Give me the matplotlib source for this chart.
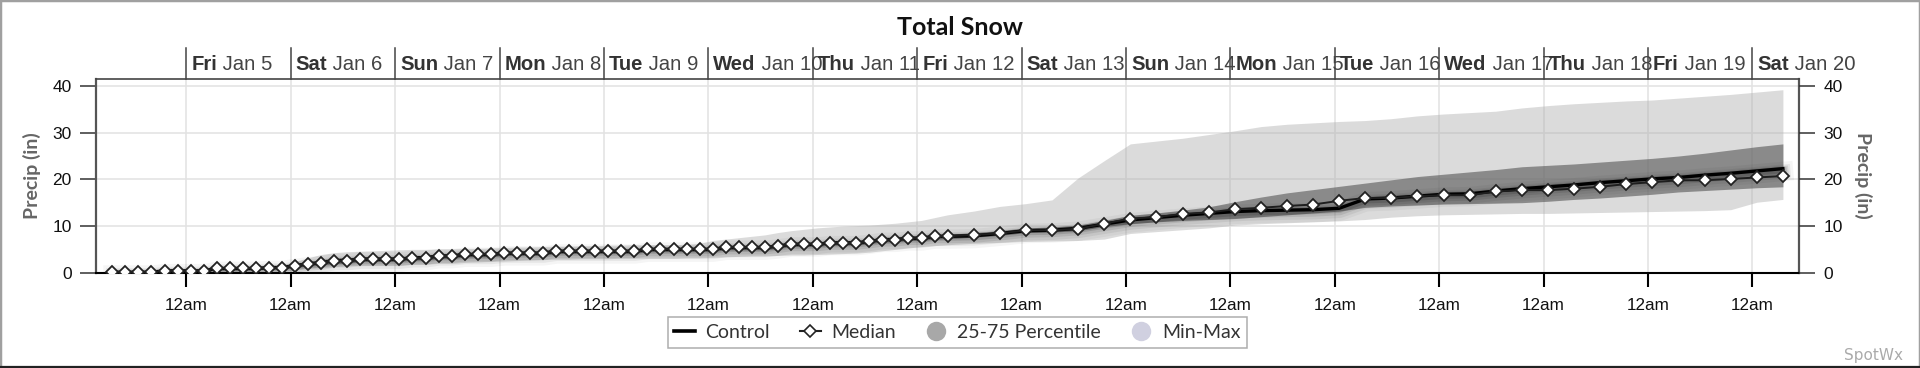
import matplotlib
matplotlib.use('Agg')
import matplotlib.pyplot as plt
import matplotlib.dates as mdates
import matplotlib.patheffects as pe
from matplotlib.lines import Line2D
from matplotlib.patches import Rectangle
import pandas as pd

# ---------------- data ----------------
times = (list(pd.date_range('2024-01-04 07:00', '2024-01-12 07:00', freq='3h')) +
         list(pd.date_range('2024-01-12 13:00', '2024-01-20 07:00', freq='6h')))

median = [
    0.1, 0.1, 0.1, 0.1, 0.4, 0.4, 0.4, 0.4,
    0.9, 0.9, 0.9, 0.9, 1.1, 1.1, 1.5, 1.9,
    2.1, 2.6, 2.6, 2.9, 2.9, 2.9, 2.9, 3.2,
    3.2, 3.6, 3.6, 3.9, 3.9, 3.9, 4.2, 4.2,
    4.2, 4.2, 4.6, 4.6, 4.6, 4.6, 4.6, 4.6,
    4.6, 5.0, 5.0, 5.0, 5.0, 5.0, 5.0, 5.4,
    5.4, 5.4, 5.4, 5.7, 6.1, 6.1, 6.1, 6.4,
    6.4, 6.4, 6.7, 7.1, 7.1, 7.4, 7.4, 7.8,
    7.8, 8.1, 8.4, 9.1, 9.1, 9.4, 10.5, 11.6,
    11.9, 12.6, 12.9, 13.6, 13.9, 14.3, 14.6, 15.4,
    16.0, 16.0, 16.4, 16.6, 16.6, 17.4, 17.7, 17.7,
    18.0, 18.4, 19.0, 19.4, 19.8, 19.8, 20.1, 20.4,
    20.7]

control = [
    0.1, 0.1, 0.1, 0.1, 0.4, 0.4, 0.4, 0.4,
    0.9, 0.9, 0.9, 0.9, 1.1, 1.1, 1.5, 1.9,
    2.1, 2.6, 2.6, 2.9, 2.9, 2.9, 2.9, 3.2,
    3.2, 3.6, 3.6, 3.9, 3.9, 3.9, 4.2, 4.2,
    4.2, 4.2, 4.6, 4.6, 4.6, 4.6, 4.6, 4.6,
    4.6, 5.0, 5.0, 5.0, 5.0, 5.0, 5.0, 5.4,
    5.4, 5.4, 5.4, 5.7, 6.1, 6.1, 6.1, 6.4,
    6.4, 6.4, 6.7, 7.1, 7.1, 7.4, 7.4, 7.8,
    7.8, 7.9, 8.4, 9.0, 9.1, 9.5, 10.4, 11.3,
    11.8, 12.3, 12.7, 13.1, 13.3, 13.4, 13.5, 13.8,
    15.8, 16.0, 16.4, 16.8, 16.9, 17.5, 18.0, 18.4,
    18.8, 19.3, 19.7, 20.1, 20.4, 20.9, 21.3, 21.8,
    22.3]

p25 = [
    0.0, 0.0, 0.0, 0.0, 0.2, 0.2, 0.2, 0.2,
    0.6, 0.6, 0.6, 0.6, 0.8, 0.8, 1.1, 1.4,
    1.6, 2.0, 2.0, 2.4, 2.4, 2.4, 2.4, 2.7,
    2.7, 3.0, 3.0, 3.4, 3.4, 3.4, 3.7, 3.7,
    3.7, 3.7, 4.1, 4.1, 4.1, 4.1, 4.1, 4.1,
    4.1, 4.5, 4.5, 4.5, 4.5, 4.5, 4.5, 4.9,
    4.9, 4.9, 4.9, 5.2, 5.6, 5.6, 5.6, 5.9,
    5.9, 5.9, 6.2, 6.6, 6.6, 6.9, 6.9, 7.2,
    7.3, 7.6, 8.0, 8.6, 8.7, 9.0, 9.9, 10.5,
    10.9, 11.2, 11.4, 11.6, 12.0, 12.4, 12.8, 13.2,
    14.0, 14.3, 14.5, 14.7, 14.8, 14.9, 15.0, 15.3,
    15.7, 16.0, 16.4, 16.8, 17.3, 17.6, 17.9, 18.2,
    18.4]

p75 = [
    0.2, 0.2, 0.2, 0.2, 0.5, 0.5, 0.5, 0.5,
    1.0, 1.0, 1.0, 1.0, 1.3, 1.3, 1.9, 2.4,
    2.8, 3.1, 3.2, 3.4, 3.4, 3.4, 3.4, 3.6,
    3.6, 3.9, 3.9, 4.2, 4.2, 4.2, 4.5, 4.5,
    4.5, 4.5, 4.9, 4.9, 4.9, 4.9, 4.9, 4.9,
    4.9, 5.3, 5.3, 5.3, 5.3, 5.3, 5.3, 5.7,
    5.7, 5.7, 5.7, 6.0, 6.4, 6.4, 6.4, 6.8,
    6.8, 6.8, 7.1, 7.4, 7.4, 7.8, 7.8, 8.1,
    8.2, 8.6, 9.0, 9.6, 9.8, 10.2, 11.2, 12.3,
    12.8, 13.4, 14.1, 15.2, 16.2, 17.1, 17.8, 18.5,
    19.2, 19.9, 20.6, 21.1, 21.6, 22.1, 22.7, 23.0,
    23.3, 23.7, 24.1, 24.5, 25.0, 25.6, 26.3, 27.0,
    27.6]

vmin = [
    0.0, 0.0, 0.0, 0.0, 0.0, 0.0, 0.0, 0.0,
    0.3, 0.3, 0.3, 0.3, 0.5, 0.5, 0.7, 0.9,
    1.1, 1.3, 1.5, 1.6, 1.6, 1.6, 1.6, 1.8,
    1.8, 2.0, 2.0, 2.2, 2.3, 2.4, 2.5, 2.6,
    2.7, 2.8, 2.9, 2.9, 3.0, 3.0, 3.0, 3.1,
    3.1, 3.1, 3.1, 3.1, 3.2, 3.2, 3.3, 3.4,
    3.5, 3.6, 3.6, 3.7, 3.8, 3.8, 3.9, 4.0,
    4.1, 4.2, 4.4, 4.7, 5.0, 5.3, 5.6, 5.8,
    6.0, 6.3, 6.5, 6.7, 6.8, 6.9, 7.2, 8.4,
    8.8, 9.2, 9.6, 10.2, 10.5, 10.7, 10.9, 11.1,
    11.4, 11.9, 12.2, 12.4, 12.5, 12.6, 12.7, 12.7,
    12.8, 12.9, 13.0, 13.1, 13.2, 13.3, 13.5, 15.1,
    15.7]

vmax = [
    0.4, 0.4, 0.4, 0.4, 0.7, 0.7, 0.7, 0.7,
    1.2, 1.2, 1.2, 1.2, 1.6, 1.6, 2.4, 3.2,
    3.9, 4.3, 4.5, 4.6, 4.7, 4.8, 4.9, 5.0,
    5.0, 5.1, 5.1, 5.2, 5.2, 5.3, 5.4, 5.5,
    5.5, 5.6, 5.7, 5.7, 5.8, 5.8, 5.9, 5.9,
    6.0, 6.0, 6.0, 6.0, 6.1, 6.3, 6.9, 7.2,
    7.5, 7.8, 8.1, 8.6, 9.0, 9.3, 9.6, 9.8,
    10.0, 10.1, 10.2, 10.4, 10.6, 10.9, 11.2, 11.8,
    12.4, 13.2, 14.2, 14.8, 15.6, 20.3, 24.0, 27.6,
    28.2, 28.8, 29.6, 30.4, 31.3, 31.8, 32.1, 32.4,
    32.6, 33.0, 33.6, 34.0, 34.3, 34.6, 35.3, 35.8,
    36.2, 36.5, 36.8, 37.0, 37.4, 37.8, 38.2, 38.7,
    39.2]

day_ticks = list(pd.date_range('2024-01-05', '2024-01-20', freq='D'))
day_names = ['Fri', 'Sat', 'Sun', 'Mon', 'Tue', 'Wed', 'Thu', 'Fri',
             'Sat', 'Sun', 'Mon', 'Tue', 'Wed', 'Thu', 'Fri', 'Sat']
day_dates = ['Jan 5', 'Jan 6', 'Jan 7', 'Jan 8', 'Jan 9', 'Jan 10', 'Jan 11',
             'Jan 12', 'Jan 13', 'Jan 14', 'Jan 15', 'Jan 16', 'Jan 17',
             'Jan 18', 'Jan 19', 'Jan 20']
tick_label = '12am'
y_ticks = [0, 10, 20, 30, 40]

# ---------------- figure ----------------
W, H = 1920, 368
fig = plt.figure(figsize=(W / 100, H / 100), dpi=100)
fig.patch.set_facecolor('white')

ax_l, ax_r, ax_t, ax_b = 96, 1799, 79, 272.7
ax = fig.add_axes([ax_l / W, 1 - ax_b / H, (ax_r - ax_l) / W, (ax_b - ax_t) / H])

x = mdates.date2num(times)

ax.fill_between(x, vmin, vmax, color='#b0b0b0', alpha=0.45, lw=0, zorder=2)
ax.fill_between(x, p25, p75, color='#555555', alpha=0.6, lw=0, zorder=3)

shadow = [pe.Stroke(linewidth=14, foreground='k', alpha=0.04, offset=(0.5, -2)),
          pe.Stroke(linewidth=10, foreground='k', alpha=0.06, offset=(0.5, -2)),
          pe.Stroke(linewidth=7, foreground='k', alpha=0.09, offset=(0.5, -1.5)),
          pe.Stroke(linewidth=4.5, foreground='k', alpha=0.13, offset=(0.5, -1)),
          pe.Normal()]
ax.plot(x, control, color='black', lw=2.4, zorder=5, path_effects=shadow,
        solid_joinstyle='round')
ax.plot(x, median, color='#1e1e1e', lw=1.4, marker='D', ms=6.5, mfc='white',
        mec='#222222', mew=1.3, zorder=6)

x0 = mdates.date2num(pd.Timestamp('2024-01-04 03:15'))
x1 = mdates.date2num(pd.Timestamp('2024-01-20 10:42'))
ax.set_xlim(x0, x1)
ax.set_ylim(0, 41.5)

# grid
ax.set_xticks(mdates.date2num(day_ticks))
ax.set_xticklabels([tick_label] * len(day_ticks))
ax.set_yticks(y_ticks)
ax.grid(True, color='#e2e2e2', lw=1.1, zorder=1)
ax.set_axisbelow(True)

for lab in ax.get_xticklabels():
    lab.set_fontfamily('Liberation Sans')
    lab.set_fontsize(12.3)
    lab.set_color('#111111')
ax.tick_params(axis='x', direction='out', length=10, width=1.5, color='black',
               pad=8.3)
ax.tick_params(axis='y', direction='out', length=11.5, width=1.1, color='#333333',
               pad=6, labelsize=12.5, labelcolor='#111111')
for lab in ax.get_yticklabels():
    lab.set_fontfamily('Liberation Sans')

for s in ['left', 'right']:
    ax.spines[s].set_color('#555555')
    ax.spines[s].set_linewidth(1.6)
ax.spines['top'].set_color('#444444')
ax.spines['top'].set_linewidth(1.2)
ax.spines['bottom'].set_color('black')
ax.spines['bottom'].set_linewidth(1.5)

ax2 = ax.twinx()
ax2.set_ylim(ax.get_ylim())
ax2.set_yticks(y_ticks)
ax2.tick_params(axis='y', direction='out', length=11.5, width=1.1, color='#333333',
                pad=6, labelsize=12.5, labelcolor='#111111')
for lab in ax2.get_yticklabels():
    lab.set_fontfamily('Liberation Sans')
for s in ax2.spines.values():
    s.set_visible(False)

# header row of days
hdr_h = (ax_t - 47.7) / (ax_b - ax_t)
xt = ax.get_xaxis_transform()
for d, nm, dt in zip(day_ticks, day_names, day_dates):
    dn = mdates.date2num(d)
    ax.plot([dn, dn], [1.0, 1.0 + hdr_h], transform=xt, clip_on=False,
            color='#444444', lw=1.1, zorder=10)
    t1 = ax.annotate(nm, xy=(dn, 1.0), xycoords=xt, xytext=(3.6, 6.2),
                     textcoords='offset points', ha='left', va='baseline',
                     fontsize=14.6, fontweight='bold', family='Liberation Sans',
                     color='#333333', annotation_clip=False)
    ax.annotate(' ' + dt, xy=(1, 0), xycoords=t1, ha='left', va='bottom',
                fontsize=14.6, family='Liberation Sans', color='#444444',
                annotation_clip=False)

# title
fig.text(0.5, 1 - 35 / H, 'Total Snow', ha='center', va='baseline',
         fontsize=18, fontweight='bold', family='Lato', color='#111111')

# y labels
yc = 1 - ((ax_t + ax_b) / 2) / H
fig.text(32 / W, yc, 'Precip (in)', rotation=90, ha='center', va='center',
         fontsize=14, fontweight='bold', family='Lato', color='#666666')
fig.text(1863 / W, yc, 'Precip (in)', rotation=270, ha='center', va='center',
         fontsize=14, fontweight='bold', family='Lato', color='#666666')

# legend
handles = [
    Line2D([], [], color='black', lw=2.6),
    Line2D([], [], color='#222222', lw=1.5, marker='D', ms=6, mfc='white',
           mec='#222222', mew=1.2),
    Line2D([], [], ls='none', marker='o', ms=14, mfc='#a8a8a8', mec='none'),
    Line2D([], [], ls='none', marker='o', ms=14, mfc='#d0d0e0', mec='none'),
]
labels = ['Control', 'Median', '25-75 Percentile', 'Min-Max']
leg = fig.legend(handles, labels, loc='center',
                 bbox_to_anchor=(957.5 / W, 1 - 332.5 / H), ncol=4,
                 frameon=True, fancybox=False, edgecolor='#999999',
                 prop=dict(family='Lato', size=14), handlelength=1.05,
                 handletextpad=0.55, columnspacing=1.55, borderpad=0.35)
leg.get_frame().set_linewidth(1.1)
for t in leg.get_texts():
    t.set_color('#333333')

# watermark
fig.text(1903 / W, 1 - 360 / H, 'SpotWx', ha='right', va='baseline',
         fontsize=11, color='#aaaaaa', family='DejaVu Sans')

# figure border
fig.patches.append(Rectangle((0, 0), 1, 1, transform=fig.transFigure,
                             fill=False, edgecolor='#a0a0a0', lw=2.5))
fig.lines.append(Line2D([0, 1], [1.5 / H, 1.5 / H], transform=fig.transFigure,
                        color='#222222', lw=1.6))

fig.savefig('out.png', dpi=100)
